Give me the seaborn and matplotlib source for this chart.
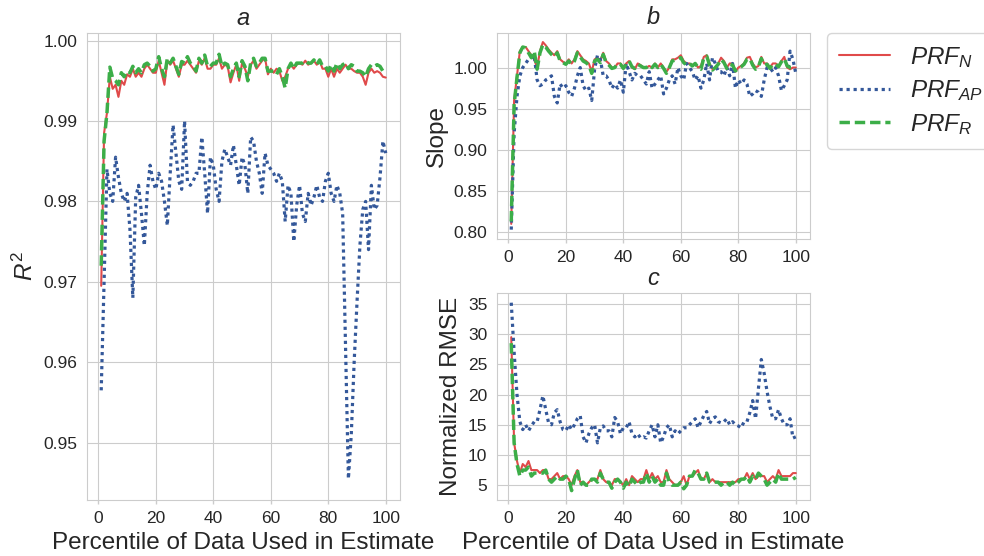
import numpy as np
import pandas as pd
import matplotlib
matplotlib.use('Agg')
import matplotlib.pyplot as plt
import seaborn as sns

# ── Données
percentile = list(range(1, 101))

r2_n = [0.9695, 0.9885, 0.9910, 0.9955, 0.9940, 0.9945, 0.9930, 0.9950, 0.9945, 0.9958,
        0.9955, 0.9965, 0.9955, 0.9960, 0.9955, 0.9965, 0.9970, 0.9965, 0.9960, 0.9960,
        0.9975, 0.9960, 0.9945, 0.9975, 0.9970, 0.9975, 0.9965, 0.9955, 0.9970, 0.9970,
        0.9975, 0.9970, 0.9965, 0.9960, 0.9975, 0.9970, 0.9978, 0.9965, 0.9965, 0.9970,
        0.9970, 0.9978, 0.9965, 0.9970, 0.9968, 0.9948, 0.9960, 0.9970, 0.9950, 0.9972,
        0.9965, 0.9955, 0.9970, 0.9975, 0.9965, 0.9970, 0.9975, 0.9978, 0.9958, 0.9965,
        0.9960, 0.9965, 0.9962, 0.9950, 0.9955, 0.9965, 0.9970, 0.9965, 0.9970, 0.9972,
        0.9970, 0.9975, 0.9970, 0.9972, 0.9975, 0.9970, 0.9975, 0.9965, 0.9965, 0.9955,
        0.9965, 0.9955, 0.9965, 0.9960, 0.9965, 0.9970, 0.9965, 0.9965, 0.9962, 0.9960,
        0.9960, 0.9955, 0.9945, 0.9960, 0.9965, 0.9960, 0.9962, 0.9960, 0.9955, 0.9954]

r2_ap = [0.9565, 0.9700, 0.9840, 0.9810, 0.9800, 0.9855, 0.9830, 0.9810, 0.9800, 0.9810,
         0.9765, 0.9680, 0.9805, 0.9820, 0.9785, 0.9745, 0.9810, 0.9845, 0.9825, 0.9815,
         0.9835, 0.9825, 0.9800, 0.9770, 0.9835, 0.9895, 0.9860, 0.9825, 0.9815, 0.9900,
         0.9825, 0.9820, 0.9825, 0.9835, 0.9835, 0.9880, 0.9835, 0.9785, 0.9855, 0.9845,
         0.9815, 0.9800, 0.9850, 0.9865, 0.9855, 0.9845, 0.9870, 0.9845, 0.9820, 0.9855,
         0.9845, 0.9810, 0.9880, 0.9875, 0.9850, 0.9835, 0.9810, 0.9860, 0.9845, 0.9840,
         0.9835, 0.9825, 0.9835, 0.9825, 0.9775, 0.9820, 0.9810, 0.9750, 0.9795, 0.9820,
         0.9785, 0.9775, 0.9810, 0.9795, 0.9805, 0.9820, 0.9805, 0.9800, 0.9825, 0.9835,
         0.9810, 0.9800, 0.9820, 0.9810, 0.9785, 0.9620, 0.9455, 0.9510, 0.9600, 0.9675,
         0.9745, 0.9790, 0.9800, 0.9740, 0.9820, 0.9790, 0.9795, 0.9830, 0.9875, 0.9860]

r2_r = [0.9720, 0.9875, 0.9910, 0.9967, 0.9953, 0.9950, 0.9945, 0.9960, 0.9955, 0.9962,
        0.9960, 0.9968, 0.9960, 0.9965, 0.9960, 0.9970, 0.9972, 0.9968, 0.9962, 0.9965,
        0.9980, 0.9965, 0.9955, 0.9978, 0.9972, 0.9978, 0.9968, 0.9958, 0.9974, 0.9972,
        0.9980, 0.9972, 0.9968, 0.9962, 0.9978, 0.9972, 0.9982, 0.9968, 0.9968, 0.9972,
        0.9972, 0.9983, 0.9968, 0.9972, 0.9970, 0.9955, 0.9965, 0.9972, 0.9955, 0.9975,
        0.9968, 0.9950, 0.9972, 0.9978, 0.9968, 0.9972, 0.9978, 0.9978, 0.9962, 0.9962,
        0.9962, 0.9958, 0.9965, 0.9955, 0.9941, 0.9965, 0.9972, 0.9965, 0.9972, 0.9972,
        0.9972, 0.9975, 0.9972, 0.9972, 0.9976, 0.9970, 0.9976, 0.9968, 0.9968, 0.9962,
        0.9970, 0.9962, 0.9972, 0.9965, 0.9970, 0.9972, 0.9965, 0.9970, 0.9968, 0.9962,
        0.9962, 0.9960, 0.9955, 0.9965, 0.9970, 0.9968, 0.9970, 0.9968, 0.9962, 0.9962]

slope_n = [0.810, 0.960, 0.990, 1.020, 1.025, 1.025, 1.020, 1.015, 1.010, 1.000,
           1.020, 1.031, 1.027, 1.022, 1.018, 1.015, 1.020, 1.010, 1.007, 1.005,
           1.010, 1.005, 1.010, 1.020, 1.015, 1.010, 1.008, 1.005, 0.995, 1.010,
           1.012, 1.008, 1.018, 1.008, 1.005, 1.000, 1.000, 1.005, 1.005, 1.000,
           1.005, 1.008, 1.000, 0.998, 1.005, 1.003, 1.000, 1.000, 1.002, 1.000,
           1.005, 1.000, 1.005, 1.000, 0.995, 1.000, 1.010, 1.010, 1.012, 1.015,
           1.008, 1.005, 1.005, 1.003, 1.005, 1.000, 1.002, 1.013, 1.015, 1.005,
           0.998, 1.000, 1.005, 1.012, 1.008, 1.000, 1.005, 1.005, 0.995, 1.000,
           1.002, 1.005, 1.012, 1.013, 1.005, 1.000, 1.002, 1.013, 1.005, 1.005,
           1.000, 1.005, 1.005, 1.002, 1.008, 1.013, 1.000, 0.998, 1.000, 1.000]

slope_ap = [0.803, 0.920, 0.965, 0.990, 1.000, 1.005, 1.010, 1.012, 1.015, 0.985,
            0.978, 0.980, 0.985, 0.987, 0.990, 0.965, 0.957, 0.980, 0.975, 0.978,
            0.970, 0.965, 0.975, 0.990, 1.000, 0.978, 0.972, 0.975, 0.960, 0.998,
            1.015, 1.010, 0.990, 0.990, 0.985, 0.975, 0.980, 0.975, 0.985, 0.970,
            1.005, 0.995, 0.985, 0.993, 0.990, 0.990, 0.985, 0.980, 0.995, 0.975,
            0.980, 0.985, 0.990, 0.968, 0.975, 0.985, 0.990, 0.980, 1.000, 0.990,
            0.985, 1.005, 1.000, 0.995, 0.985, 0.990, 0.975, 0.985, 1.005, 0.985,
            1.012, 1.005, 0.995, 0.995, 0.990, 1.000, 0.990, 1.005, 0.975, 0.985,
            0.980, 0.985, 0.980, 0.965, 0.968, 0.972, 0.970, 0.965, 0.985, 1.000,
            1.000, 0.995, 1.000, 0.990, 0.972, 0.978, 0.985, 1.020, 1.010, 0.993]

slope_r = [0.813, 0.955, 0.988, 1.018, 1.025, 1.024, 1.018, 1.012, 1.020, 0.998,
           1.018, 1.028, 1.025, 1.020, 1.016, 1.013, 1.018, 1.008, 1.006, 1.004,
           1.008, 1.004, 1.008, 1.018, 1.013, 1.008, 1.006, 1.003, 0.993, 1.008,
           1.010, 1.006, 1.016, 1.006, 1.003, 0.999, 1.000, 1.005, 1.004, 0.999,
           1.004, 1.008, 1.001, 0.999, 1.004, 1.002, 1.000, 1.000, 1.003, 1.000,
           1.004, 1.000, 1.004, 0.999, 0.993, 1.000, 1.008, 1.009, 1.010, 1.012,
           1.006, 1.003, 1.005, 1.002, 1.005, 1.000, 0.998, 1.012, 1.014, 1.003,
           0.997, 1.000, 1.004, 1.010, 1.006, 0.999, 1.004, 1.003, 0.996, 0.999,
           1.001, 1.004, 1.010, 1.011, 1.003, 0.998, 1.001, 1.011, 1.003, 1.004,
           0.999, 1.004, 1.004, 1.001, 1.007, 1.011, 1.002, 1.000, 1.000, 0.999]

rmse_n = [29.5, 12.0, 9.0, 7.0, 8.5, 8.0, 9.0, 7.5, 7.5, 7.5,
          7.0, 7.5, 7.5, 6.0, 6.0, 6.5, 7.0, 6.0, 6.5, 6.5,
          6.0, 5.0, 6.5, 7.5, 5.5, 5.5, 5.0, 5.5, 6.0, 6.0,
          6.0, 7.5, 6.0, 5.5, 5.5, 5.0, 6.0, 6.0, 5.5, 5.0,
          6.0, 5.0, 6.5, 6.0, 5.5, 6.0, 6.0, 7.5, 6.0, 7.0,
          6.0, 6.5, 5.5, 5.5, 7.5, 6.0, 5.5, 5.0, 5.0, 5.5,
          6.5, 5.0, 6.5, 6.5, 7.0, 7.5, 6.0, 6.0, 7.0, 5.5,
          6.0, 5.5, 5.5, 5.5, 5.5, 5.5, 5.5, 5.5, 5.5, 6.0,
          6.0, 6.0, 7.0, 6.0, 7.0, 6.0, 6.5, 6.5, 6.5, 5.5,
          6.0, 6.5, 6.0, 7.5, 6.5, 6.5, 6.5, 6.5, 7.0, 7.0]

rmse_ap = [35.2, 27.0, 20.0, 15.5, 14.2, 15.0, 14.0, 14.8, 15.5, 15.5,
           17.5, 19.8, 17.5, 15.3, 15.0, 17.0, 17.5, 15.5, 14.2, 14.0,
           15.0, 14.2, 15.0, 16.0, 16.5, 13.0, 12.0, 13.5, 14.5, 15.0,
           12.0, 14.5, 14.8, 14.0, 14.0, 13.0, 16.2, 15.5, 13.5, 14.5,
           14.5, 15.5, 13.5, 13.0, 13.5, 12.8, 13.0, 12.8, 14.0, 15.0,
           13.0, 15.0, 12.0, 13.0, 14.5, 15.0, 13.0, 14.0, 13.5, 14.0,
           14.5, 14.5, 15.0, 15.5, 16.0, 14.5, 15.5, 16.5, 17.2, 15.2,
           16.0, 16.3, 15.5, 15.3, 15.5, 16.0, 15.0, 15.5, 15.0, 14.8,
           14.5, 15.5, 15.5, 17.0, 19.0, 16.0, 21.0, 25.8, 23.5, 20.5,
           18.0, 16.0, 16.0, 17.5, 16.0, 15.0, 15.0, 16.0, 12.8, 13.0]

rmse_r = [28.5, 12.0, 8.5, 6.5, 7.5, 7.5, 8.0, 6.5, 7.0, 7.0,
          7.0, 7.0, 7.5, 6.0, 5.5, 6.0, 6.5, 6.0, 6.0, 6.5,
          6.0, 4.1, 6.0, 7.5, 5.0, 5.5, 5.0, 5.0, 6.0, 6.0,
          5.5, 7.0, 6.0, 5.5, 5.5, 4.5, 5.5, 6.0, 5.5, 4.5,
          5.5, 4.8, 6.0, 5.5, 5.0, 5.5, 5.5, 7.0, 5.5, 6.5,
          5.5, 6.0, 5.0, 5.0, 7.0, 5.5, 5.0, 5.0, 5.0, 5.5,
          4.4, 5.0, 6.5, 6.5, 7.5, 7.0, 6.0, 6.0, 7.0, 5.5,
          5.5, 5.5, 5.5, 5.0, 5.5, 5.5, 5.0, 5.5, 5.0, 5.5,
          6.0, 6.0, 6.5, 5.5, 6.5, 6.0, 7.0, 6.5, 6.0, 5.0,
          5.5, 6.0, 5.5, 7.0, 6.0, 6.0, 6.0, 6.0, 6.0, 6.3]

series = ['$PRF_N$', '$PRF_{AP}$', '$PRF_R$']
couleurs = ['#e04a4a', '#34589a', '#3cae48']
styles = ['-', (0, (1, 1.2)), (0, (3, 1.4))]
epaisseurs = [1.5, 2.3, 2.5]

# ── Style
sns.set_style('whitegrid', {'xtick.bottom': True, 'xtick.color': '.15'})
plt.rcParams['font.family'] = ['Liberation Sans', 'DejaVu Sans']
plt.rcParams['mathtext.fontset'] = 'custom'
plt.rcParams['mathtext.it'] = 'Liberation Sans:italic'
plt.rcParams['mathtext.rm'] = 'Liberation Sans'
plt.rcParams['xtick.major.size'] = 3
plt.rcParams['xtick.major.width'] = 1
plt.rcParams['xtick.major.pad'] = 5

fig = plt.figure(figsize=(9.84, 5.56), dpi=100)
ax_a = fig.add_axes([0.0884, 0.1007, 0.3181, 0.8399])
ax_b = fig.add_axes([0.5051, 0.5701, 0.3181, 0.3711])
ax_c = fig.add_axes([0.5051, 0.1007, 0.3181, 0.3718])

panneaux = [
    (ax_a, [r2_n, r2_ap, r2_r], 'a', '$R^2$'),
    (ax_b, [slope_n, slope_ap, slope_r], 'b', 'Slope'),
    (ax_c, [rmse_n, rmse_ap, rmse_r], 'c', 'Normalized RMSE'),
]

for ax, donnees, titre, ylab in panneaux:
    for vals, nom, coul, ls, lw in zip(donnees, series, couleurs, styles, epaisseurs):
        sns.lineplot(x=percentile, y=vals, ax=ax, color=coul, linestyle=ls, lw=lw,
                     label=nom if ax is ax_b else None, legend=False)
    ax.set_title(titre, fontsize=17, style='italic', pad=6)
    ax.set_ylabel(ylab, fontsize=17.5)
    ax.tick_params(axis='both', labelsize=12.5, colors='.15')
    ax.tick_params(axis='x', color='.8')
    ax.set_xticks([0, 20, 40, 60, 80, 100])

ax_a.set_yticks([0.95, 0.96, 0.97, 0.98, 0.99, 1.00])
ax_a.set_xlabel('Percentile of Data Used in Estimate', fontsize=17.5)
ax_c.set_xlabel('Percentile of Data Used in Estimate', fontsize=17.5)
ax_b.set_yticks([0.80, 0.85, 0.90, 0.95, 1.00])
ax_b.yaxis.set_major_formatter(matplotlib.ticker.FormatStrFormatter('%.2f'))
ax_c.set_yticks([5, 10, 15, 20, 25, 30, 35])

handles, labels = ax_b.get_legend_handles_labels()
fig.legend(handles, labels, loc='upper left', bbox_to_anchor=(0.8405, 0.9412),
           fontsize=17.5, frameon=True, edgecolor='.8', borderaxespad=0,
           handlelength=2.1, labelspacing=0.35, borderpad=0.5)

plt.savefig('out.png', dpi=100)
plt.close()
